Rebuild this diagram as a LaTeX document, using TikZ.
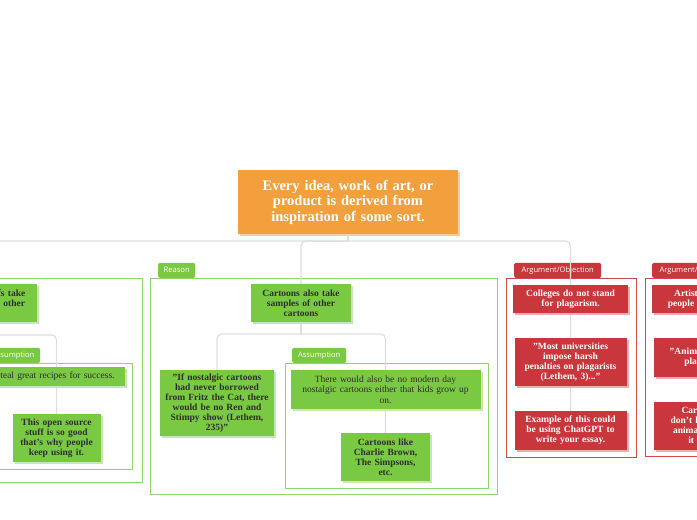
\documentclass[tikz,border=0pt]{standalone}
\usepackage{fontspec}
\setmainfont{Liberation Serif}
\newfontfamily\tabfont{Open Sans}
\usepackage{tikz}
\usetikzlibrary{shadows,positioning}
\definecolor{TopicOrange}{HTML}{F2A03D}
\definecolor{TopicShade}{HTML}{F9CF97}
\definecolor{LeafGreen}{HTML}{7AC943}
\definecolor{LeafShade}{HTML}{C9E4B6}
\definecolor{FrameGreen}{HTML}{92D56E}
\definecolor{ArgRed}{HTML}{C9363C}
\definecolor{ArgShade}{HTML}{E6B0B2}
\definecolor{FrameRed}{HTML}{D2474C}
\definecolor{LinkGrey}{HTML}{DEDEDE}
\definecolor{LeafText}{HTML}{2E2E2E}
\tikzset{
  link/.style={draw=LinkGrey,line width=1.2pt,rounded corners=5pt},
  topic/.style={fill=TopicOrange,text=white,align=center,inner sep=0pt,
    font=\bfseries\fontsize{14.5}{15.5}\selectfont,
    drop shadow={shadow xshift=2pt,shadow yshift=-2pt,fill=TopicShade,opacity=1}},
  leaf/.style={fill=LeafGreen,text=LeafText,align=center,inner sep=0pt,
    font=\bfseries\fontsize{9.5}{10}\selectfont,
    drop shadow={shadow xshift=2pt,shadow yshift=-2pt,fill=LeafShade,opacity=1}},
  leafplain/.style={leaf,font=\fontsize{9.5}{10.5}\selectfont},
  argleaf/.style={leaf,fill=ArgRed,text=white,
    drop shadow={shadow xshift=2pt,shadow yshift=-2pt,fill=ArgShade,opacity=1}},
  greenframe/.style={draw=FrameGreen,line width=1.1pt,anchor=north west,inner sep=0pt},
  redframe/.style={draw=FrameRed,line width=1.1pt,anchor=north west,inner sep=0pt},
  greentab/.style={fill=LeafGreen,text=white,rounded corners=1.5pt,anchor=south west,
    inner sep=0pt,minimum height=15pt,font=\tabfont\fontsize{7.6}{8}\selectfont},
  redtab/.style={greentab,fill=ArgRed}
}

\begin{document}
\begin{tikzpicture}[x=1pt,y=-1pt]
  \useasboundingbox (0,0) rectangle (697,520);
  \clip (0,0) rectangle (697,520);

  % frames and tabs
  \node[greenframe,minimum width=292pt,minimum height=204pt] (chefsframe) at (-150,278) {};
  \node[greenframe,minimum width=146pt,minimum height=106pt] (chefsassumframe) at (-14,363) {};
  \node[greentab,minimum width=54pt] (chefsassumtab) at (-14,363) {Assumption};
  \node[greenframe,minimum width=347pt,minimum height=216pt] (reasonframe) at (150,278) {};
  \node[greentab,minimum width=37pt] (reasontab) at (158,278) {Reason};
  \node[greenframe,minimum width=203pt,minimum height=125pt] (assumframe) at (285,363) {};
  \node[greentab,minimum width=54pt] (assumtab) at (292,363) {Assumption};
  \node[redframe,minimum width=130pt,minimum height=179pt] (objframe) at (506,278) {};
  \node[redtab,minimum width=87pt] (objtab) at (514,278) {Argument/Objection};
  \node[redframe,minimum width=130pt,minimum height=178pt] (artframe) at (645,278) {};
  \node[redtab,minimum width=87pt] (arttab) at (652,278) {Argument/Objection};

  % topic and links
  \node[topic,minimum width=220pt,minimum height=64pt,text width=210pt] (root) at (348,202)
    {Every idea, work of art, or\\product is derived from\\inspiration of some sort.};
  \coordinate (rootfork) at (348,241);
  \coordinate (reasonfork) at (301,334);
  \coordinate (chefsfork) at (-13,335);
  \draw[link] (root.south) -- (rootfork);
  \draw[link] (rootfork) -| (-13,284);
  \draw[link] (rootfork) -| (301,284);
  \draw[link] (rootfork) -| (570.5,411);
  \draw[link] (301,322) -- (reasonfork);
  \draw[link] (reasonfork) -| (217,370);
  \draw[link] (reasonfork) -| (385.5,433);
  \draw[link] (-13,322) -- (chefsfork) -| (56.5,414);

  % left column
  \node[leaf,minimum width=100pt,minimum height=38pt,text width=96pt] (chefs) at (-13,303)
    {Famous chefs take\\recipes from other\\chefs.};
  \node[leafplain,minimum width=164pt,minimum height=19pt,text width=164pt] (steal) at (43,376.5)
    {Chefs steal great recipes for success.};
  \node[leaf,minimum width=88pt,minimum height=48pt,text width=86pt] (opensource) at (56.5,438)
    {This open source\\stuff is so good\\that's why people\\keep using it.};

  % reason column
  \node[leaf,minimum width=100pt,minimum height=38pt,text width=96pt] (cartoons) at (301,303)
    {Cartoons also take\\samples of other\\cartoons};
  \node[leaf,minimum width=114pt,minimum height=66pt,text width=112pt] (fritz) at (217,403)
    {"If nostalgic cartoons\\had never borrowed\\from Fritz the Cat, there\\would be no Ren and\\Stimpy show (Lethem,\\235)"};
  \node[leafplain,minimum width=190pt,minimum height=39pt,text width=188pt] (modern) at (385.5,389.5)
    {There would also be no modern day\\nostalgic cartoons either that kids grow up\\on.};
  \node[leaf,minimum width=89pt,minimum height=48pt,text width=86pt] (charlie) at (385.5,457)
    {Cartoons like\\Charlie Brown,\\The Simpsons,\\etc.};

  % objection column
  \node[argleaf,minimum width=115pt,minimum height=28pt,text width=110pt] (colleges) at (570.5,299)
    {Colleges do not stand\\for plagarism.};
  \node[argleaf,minimum width=112pt,minimum height=48pt,text width=110pt] (harsh) at (570.5,362)
    {"Most universities\\impose harsh\\penalties on plagarists\\(Lethem, 3)..."};
  \node[argleaf,minimum width=112pt,minimum height=39pt,text width=110pt] (example) at (570.5,430.5)
    {Example of this could\\be using ChatGPT to\\write your essay.};

  % right column
  \node[argleaf,minimum width=115pt,minimum height=28pt,text width=110pt] (artists) at (709.5,299)
    {Artists and other\\people use their art.};
  \node[argleaf,minimum width=112pt,minimum height=39pt,text width=110pt] (animators) at (710,357.5)
    {"Animators are not\\plagarists..."};
  \node[argleaf,minimum width=112pt,minimum height=48pt,text width=110pt] (originals) at (710,426)
    {Cartoons that\\don't have original\\animation show it\\it is really.};
\end{tikzpicture}
\end{document}
